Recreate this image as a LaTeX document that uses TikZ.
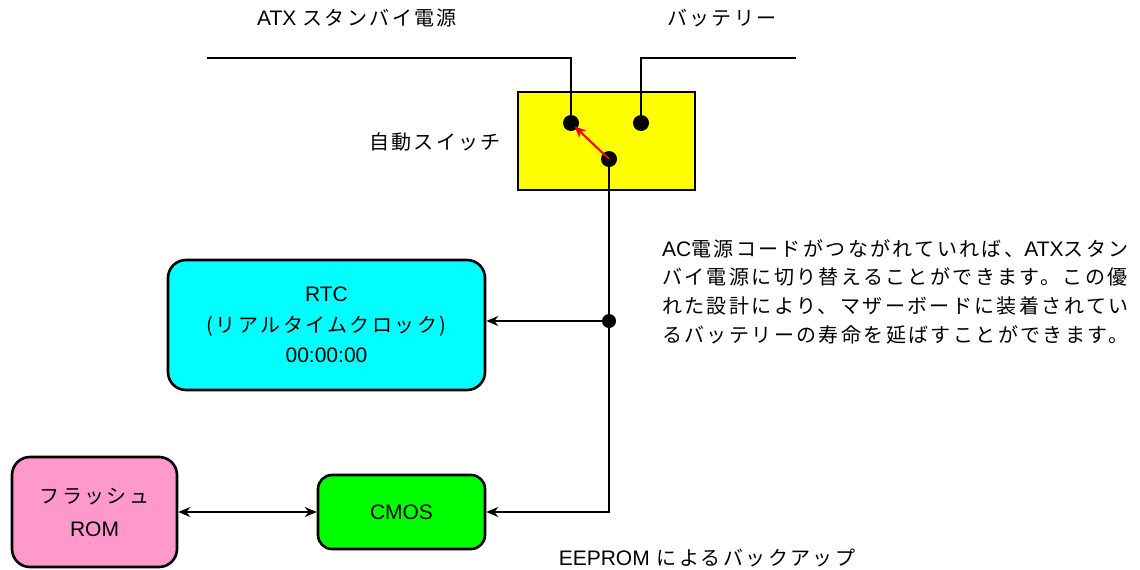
\documentclass[tikz,border=0pt]{standalone}
\usepackage{fontspec}
\setmainfont{Liberation Sans}
\newfontfamily\jp[LetterSpace=12]{Noto Sans CJK JP}
\newfontfamily\lat[Scale=1.05]{Liberation Sans}
\usetikzlibrary{arrows.meta}
\definecolor{swyellow}{HTML}{FFFF00}
\definecolor{rtccyan}{HTML}{00FFFF}
\definecolor{flashpink}{HTML}{FF99CC}
\definecolor{cmosgreen}{HTML}{00FF00}
\tikzset{
  wire/.style={line width=2.6pt},
  boxst/.style={draw, line width=2.6pt, rounded corners=18pt, align=center, inner sep=0pt},
  dotst/.style={circle, fill=black, inner sep=0pt, minimum size=16pt},
  lbl/.style={font=\fontsize{20}{28.7}\selectfont\jp, inner sep=0pt, align=center},
  tip/.style={-{Stealth[length=12pt,width=10pt,inset=4pt]}},
  bitip/.style={{Stealth[length=12pt,width=10pt,inset=4pt]}-{Stealth[length=12pt,width=10pt,inset=4pt]}}
}
\begin{document}
\begin{tikzpicture}[x=1pt,y=-1pt]
\useasboundingbox (0,0) rectangle (1140,570);
% labels
\node[lbl] (atxlbl) at (357,18) {{\lat ATX}\hspace{6pt}スタンバイ電源};
\node[lbl] (batlbl) at (722,18) {バッテリー};
\node[lbl] (swlbl) at (435,142) {自動スイッチ};
\node[lbl] (eelbl) at (707,558) {{\lat EEPROM} によるバックアップ};
\node[lbl, align=left, anchor=north west] (note) at (662,239) {%
{\lat AC}電源コードがつながれていれば、{\lat ATX}スタン\\
バイ電源に切り替えることができます。この優\\
れた設計により、マザーボードに装着されてい\\
るバッテリーの寿命を延ばすことができます。};
% switch box
\node[draw, line width=2.6pt, fill=swyellow, minimum width=177pt, minimum height=98pt, inner sep=0pt] (swbox) at (606.5,141) {};
\node[dotst] (sl) at (571,123) {};
\node[dotst] (sr) at (641,123) {};
\node[dotst] (sb) at (609,159) {};
\coordinate (atxend) at (207,58);
\coordinate (batend) at (796,58);
\draw[wire] (atxend) -| (sl.center);
\draw[wire] (batend) -| (sr.center);
\draw[red, line width=2pt, -{Stealth[length=11pt,width=10pt,inset=3pt]}, shorten >=5pt] (sb.center) -- (sl.center);
% boxes
\node[boxst, fill=rtccyan, minimum width=317pt, minimum height=130pt, font=\fontsize{20}{30.5}\selectfont\jp] (rtc) at (326.5,325) {{\lat RTC}\\(リアルタイムクロック)\\{\lat 00:00:00}};
\node[boxst, fill=flashpink, minimum width=165pt, minimum height=110pt, font=\fontsize{20}{33}\selectfont\jp] (flash) at (94.5,512) {フラッシュ\\{\lat ROM}};
\node[boxst, rounded corners=14pt, fill=cmosgreen, minimum width=167pt, minimum height=74pt, font=\fontsize{20}{30}\selectfont\lat] (cmos) at (401.5,512) {CMOS};
% junction
\node[dotst, minimum size=14pt] (jn) at (609,321) {};
\draw[wire] (sb.center) -- (jn.center);
\draw[wire, tip] (jn.center) -- (jn.center -| rtc.east);
\draw[wire, tip] (jn.center) |- (cmos.east);
\draw[wire, bitip] (flash.east) -- (cmos.west);
\end{tikzpicture}
\end{document}
